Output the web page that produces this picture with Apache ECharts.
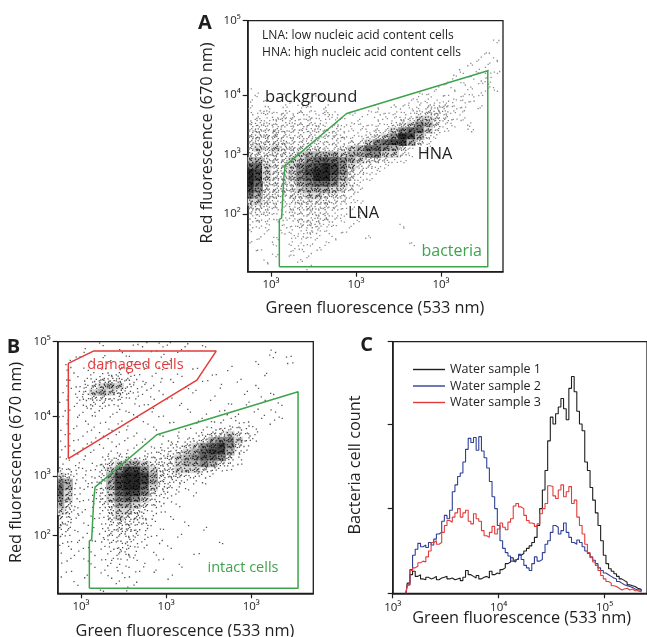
<!DOCTYPE html>
<html><head><meta charset="utf-8">
<script src="https://cdn.jsdelivr.net/npm/echarts@6/dist/echarts.min.js"></script>
<style>html,body{margin:0;padding:0;background:#fff}#c{width:647px;height:637px}</style>
</head><body><div id="c"></div>
<script>
const FONT = 'Open Sans';
const INK = '#1e1e1e';
const GREEN = '#3ea34c';
const RED = '#e23b3b';
const BLUE = '#2f4196';

// ---- Panels A & B: flow-cytometry density (log10 units) ----
const cellLogX = [2.75,2.85,2.95,3.05,3.15,3.25,3.35,3.45,3.55,3.65,3.75,3.85,3.95,4.05,4.15,4.25,4.35,4.45,4.55,4.65,4.75,4.85,4.95,5.05,5.15,5.25,5.35,5.45,5.55,5.65];
const cellLogY = [5.2,5.1,5.0,4.9,4.8,4.7,4.6,4.5,4.4,4.3,4.2,4.1,4.0,3.9,3.8,3.7,3.6,3.5,3.4,3.3,3.2,3.1,3.0,2.9,2.8,2.7,2.6,2.5,2.4,2.3,2.2,2.1,2.0,1.9,1.8,1.7,1.6,1.5,1.4,1.3,1.2,1.1];
// density level 0-9 per cell, one string per row (top row = cellLogY[0])
const densityA = [
"000000000000000000000000000000",
"000000000000000000000000000000",
"000000000000000000000000000000",
"000000000000000000000000000001",
"000000000000000000000000000000",
"000000000000000000000000000010",
"000000000000000000000000000101",
"000000000000000000000000001010",
"000000000000000000000000010111",
"000000000000000000000000101010",
"000000000000000000000001010110",
"100000000000000000000010101011",
"010010001000000000001101011100",
"101001010100000000011111111000",
"101010110100000101111222110100",
"112121211210101111112332110000",
"121222121111010111224432110000",
"222222222121111112346531101000",
"232322222221111224677421001000",
"333322222222112346985210000000",
"333332222221224678853100000000",
"343433333223457765310100000000",
"333333455554556644210000000000",
"553334467776543321100000000000",
"774334678986422110000000000000",
"984334689986321100000000000000",
"984334679975311000000000000000",
"973333567764210000000000000000",
"863333455543210000000000000000",
"753323344332100000000000000000",
"443222333322110000000000000000",
"332212232221100000000000000000",
"222112222211010000000000000000",
"121111222211010000000000000000",
"111011222110100000100000000000",
"101011121101000000000000000000",
"010101111010001000000000000000",
"100101110100000000010000000000",
"010001101000000000000000000000",
"000101010000000000000000000000",
"001000100000000000000000000000",
"000000010000000000000000000000"];
const densityB = [
"000001000110110101000000000000",
"000100010001001000000000010000",
"001001001000100000000000010100",
"010010100110010000000001000100",
"010101011010100010001000000000",
"001011221101001000100000100000",
"010123332110110001000100000000",
"011234542111000100010001000000",
"101245432110100010000010010000",
"011233221101010000100000100000",
"101122110110001000001010001000",
"010111011001000100010001010000",
"101010100100100001001100101000",
"010101010010010010110110010000",
"101010101001000101122211000000",
"010101010100101012334321000000",
"101010101010011223566421000000",
"010101010101122346786310000000",
"101010111011223457885210000000",
"110101222222234567763100000000",
"101012345543334556532100000000",
"221112468864334443211000000000",
"431112589985333221100000000000",
"651112589985322111000000000000",
"751112589974221100000000000000",
"741012478863211010000000000000",
"641112467642110000000000000000",
"531012355432101000000000000000",
"431101344321100000000000000000",
"321011343321010000000000000000",
"320101233221000100000000000000",
"221011233210100001000000000000",
"210101222211001000000000000000",
"111011222110100000010000000000",
"110101122110010000000000000000",
"101010122101000010000000000000",
"010101111100100000000000000000",
"100010111010001000000000000000",
"010001010101000000000000000000",
"100100101000010000000000000000",
"001000010100000000000000000000",
"000001001000000000000000000000"];

// gates (log10 green, log10 red)
const bacteriaGate = [[3.098,1.115],[3.098,1.91],[3.125,1.93],[3.15,2.6],[3.165,2.81],[3.89,3.69],[5.55,4.41],[5.55,1.115],[3.098,1.115]];
const damagedGate = [[2.851,3.289],[2.851,4.886],[3.145,5.092],[4.588,5.092],[4.361,4.605],[2.851,3.289]];

// tick labels as printed in the figure
const greenTickValues = [3,4,5];
const greenTickLabels = ['10³','10³','10³'];
const redTickValues = [2,3,4,5.25];
const redTickLabels = ['10²','10³','10⁴','10⁵'];

// ---- Panel C: histograms (log10 green fluorescence channel, relative count) ----
const histBinsLog = [3.125,3.15,3.175,3.2,3.225,3.25,3.275,3.3,3.325,3.35,
3.375,3.4,3.425,3.45,3.475,3.5,3.525,3.55,3.575,3.6,
3.625,3.65,3.675,3.7,3.725,3.75,3.775,3.8,3.825,3.85,
3.875,3.9,3.925,3.95,3.975,4.0,4.025,4.05,4.075,4.1,
4.125,4.15,4.175,4.2,4.225,4.25,4.275,4.3,4.325,4.35,
4.375,4.4,4.425,4.45,4.475,4.5,4.525,4.55,4.575,4.6,
4.625,4.65,4.675,4.7,4.725,4.75,4.775,4.8,4.825,4.85,
4.875,4.9,4.925,4.95,4.975,5.0,5.025,5.05,5.075,5.1,
5.125,5.15,5.175,5.2,5.225,5.25,5.275,5.3,5.325,5.35];
const sample1 = [0,0.12,0.22,0.26,0.2,0.22,0.17,0.16,0.19,0.17,
0.18,0.2,0.16,0.18,0.19,0.2,0.17,0.18,0.16,0.17,
0.18,0.15,0.19,0.27,0.22,0.2,0.18,0.21,0.17,0.19,
0.2,0.18,0.26,0.22,0.24,0.23,0.28,0.3,0.35,0.37,
0.42,0.39,0.41,0.45,0.47,0.5,0.53,0.56,0.6,0.66,
0.8,1.0,1.22,1.45,1.8,2.08,2.0,2.12,2.2,2.3,
2.18,2.05,2.42,2.56,2.38,2.15,2.0,1.92,1.55,1.45,
1.25,1.1,0.95,0.8,0.62,0.45,0.35,0.29,0.26,0.23,
0.2,0.17,0.15,0.13,0.1,0.09,0.08,0.06,0.05,0.04];
const sample2 = [0,0.1,0.28,0.45,0.52,0.59,0.55,0.57,0.54,0.6,
0.57,0.64,0.7,0.72,0.85,0.92,0.88,0.98,1.2,1.28,
1.38,1.42,1.55,1.7,1.83,1.78,1.84,1.69,1.85,1.68,
1.6,1.48,1.32,1.14,1.0,0.8,0.62,0.53,0.48,0.44,
0.38,0.37,0.4,0.46,0.4,0.33,0.3,0.27,0.35,0.43,
0.38,0.4,0.48,0.58,0.62,0.72,0.8,0.78,0.7,0.74,
0.83,0.72,0.66,0.6,0.58,0.63,0.6,0.55,0.5,0.47,
0.43,0.39,0.35,0.3,0.27,0.24,0.22,0.2,0.18,0.17,
0.14,0.12,0.1,0.09,0.08,0.07,0.05,0.04,0.04,0.03];
const sample3 = [0,0.1,0.27,0.3,0.32,0.36,0.38,0.37,0.43,0.5,
0.6,0.62,0.58,0.6,0.72,0.8,0.86,0.84,0.9,0.95,
1.0,0.9,0.95,0.98,0.85,0.82,0.94,0.88,0.85,0.74,
0.68,0.66,0.72,0.79,0.7,0.76,0.83,0.78,0.75,0.84,
0.88,1.03,1.06,1.02,1.0,0.92,0.86,0.83,0.82,0.79,
0.82,0.94,1.0,1.06,1.27,1.26,1.15,1.12,1.22,1.28,
1.14,1.2,1.26,1.06,1.1,0.9,0.8,0.7,0.58,0.48,
0.42,0.37,0.33,0.27,0.21,0.17,0.14,0.12,0.09,0.08,
0.06,0.04,0.05,0.06,0.04,0.05,0.03,0.03,0.02,0.02];
const sampleNames = ['Water sample 1','Water sample 2','Water sample 3'];
const histTickLabels = {3:'10³',4:'10⁴',5:'10⁵'};

// ---------- build ----------
// rendering style of density levels: sparse levels drawn as dot glyphs,
// dense levels as a gray cell with darker dots on top
const dotGlyph = [[0.12,0.18],[0.62,0.72],[0.86,0.28],[0.34,0.86],[0.5,0.08],[0.08,0.6],[0.72,0.46],[0.3,0.4],
  [0.92,0.9],[0.55,0.3],[0.18,0.94],[0.78,0.04],[0.42,0.62],[0.96,0.55],[0.24,0.7],[0.66,0.96]];
const panelStyle = [
  {dots:[0,3,6,9,9,9,9,8,7,6], dotColor:['','#8c8c8c','#7c7c7c','#6a6a6a','#3a3a3a','#2a2a2a','#1c1c1c','#111','#000','#000'],
   shade:[255,255,255,255,222,185,145,108,72,42]},
  {dots:[0,2,4,7,8,8,8,8,7,6], dotColor:['','#555','#505050','#4a4a4a','#333','#262626','#1a1a1a','#111','#000','#000'],
   shade:[255,255,255,255,218,180,140,104,68,40]}
];
function cells(rows){
  const out=[];
  rows.forEach((s,r)=>{
    for(let c=0;c<cellLogX.length;c++){
      const d = +(s.charAt(c)||0);
      if(d>0) out.push([cellLogX[c], cellLogY[r], d]);
    }
  });
  return out;
}
function nearestLabel(vals, labels, v){
  let bi=0,bd=1e9; vals.forEach((x,i)=>{const d=Math.abs(x-v); if(d<bd){bd=d;bi=i;}});
  return bd<1e-3?labels[bi]:'';
}
const tickStyle = {show:true, inside:false, length:5, lineStyle:{color:INK,width:1.2}};
function greenAxis(gi){
  return {type:'value', gridIndex:gi, min:2.726, max:5.729,
    axisLine:{show:true, onZero:false, lineStyle:{color:INK,width:1.5}},
    axisTick:Object.assign({customValues:greenTickValues}, tickStyle),
    axisLabel:{customValues:greenTickValues, formatter:v=>nearestLabel(greenTickValues,greenTickLabels,v), fontSize:11.5, color:INK, fontFamily:FONT, margin:7},
    splitLine:{show:false}};
}
function redAxis(gi){
  return {type:'value', gridIndex:gi, min:1.03, max:5.25,
    axisLine:{show:true, onZero:false, lineStyle:{color:INK,width:1.5}},
    axisTick:Object.assign({customValues:redTickValues}, tickStyle),
    axisLabel:{customValues:redTickValues, formatter:v=>nearestLabel(redTickValues,redTickLabels,v), fontSize:11.5, color:INK, fontFamily:FONT, margin:7},
    splitLine:{show:false}};
}
function densitySeries(rows, i){
  const st = panelStyle[i];
  return {type:'custom', xAxisIndex:i, yAxisIndex:i, data:cells(rows), encode:{x:0,y:1}, silent:true, z:1, clip:true,
    renderItem:(params, api)=>{
      const x=api.value(0), y=api.value(1), d=api.value(2);
      const p0=api.coord([x-0.05, y+0.05]), p1=api.coord([x+0.05, y-0.05]);
      const cs=params.coordSys;
      const box={x:cs.x,y:cs.y,width:cs.width,height:cs.height};
      const cell={x:p0[0],y:p0[1],width:p1[0]-p0[0],height:p1[1]-p0[1]};
      const children=[];
      const g=st.shade[d];
      if(g<255){
        const r=echarts.graphic.clipRectByRect({x:cell.x-0.4,y:cell.y-0.4,width:cell.width+0.8,height:cell.height+0.8}, box);
        if(r) children.push({type:'rect', shape:r, style:{fill:'rgb('+g+','+g+','+g+')'}});
      }
      const n=st.dots[d], s=(params.dataIndex*5)%dotGlyph.length;
      for(let k=0;k<n;k++){
        const q=dotGlyph[(s+k)%dotGlyph.length];
        const dx=cell.x+q[0]*(cell.width-1.3), dy=cell.y+q[1]*(cell.height-1.3);
        if(dx<box.x||dx+1.3>box.x+box.width||dy<box.y||dy+1.3>box.y+box.height) continue;
        children.push({type:'rect', shape:{x:dx,y:dy,width:1.3,height:1.3}, style:{fill:st.dotColor[d]}});
      }
      return {type:'group', children:children};
    }};
}
function gateSeries(pts, color, i){
  return {type:'line', xAxisIndex:i, yAxisIndex:i, data:pts, symbol:'none', silent:true, z:3,
    lineStyle:{color:color, width:1.5}};
}
function histSeries(name, vals, color){
  return {name:name, type:'line', xAxisIndex:2, yAxisIndex:2, step:'middle', symbol:'none', showSymbol:false,
    data:histBinsLog.map((x,i)=>[x, vals[i]]), lineStyle:{color:color, width:1.1}, itemStyle:{color:color}, z:3};
}
function txt(text, x, y, o){
  o=o||{};
  return {type:'text', x:x, y:y, rotation:o.rot||0, z:10, silent:true,
    style:{text:text, fill:o.color||INK, fontSize:o.size||16.3, fontWeight:o.bold?'bold':'normal', fontFamily:o.family||FONT,
      align:o.align||'center', verticalAlign:'middle'}};
}

const chart = echarts.init(document.getElementById('c'), null, {renderer:'canvas'});
chart.setOption({
  animation:false,
  backgroundColor:'#fff',
  textStyle:{fontFamily:FONT},
  grid:[
    {left:247.7, top:20.7, width:255.3, height:251, show:true, borderColor:INK, borderWidth:1.3, backgroundColor:'transparent'},
    {left:57.7, top:341.7, width:255.6, height:251.6, show:true, borderColor:INK, borderWidth:1.3, backgroundColor:'transparent'},
    {left:392.7, top:341.7, width:259.2, height:251.6, show:true, borderColor:INK, borderWidth:1.3, backgroundColor:'transparent'}
  ],
  xAxis:[greenAxis(0), greenAxis(1),
    {type:'value', gridIndex:2, min:3, max:5.4, interval:1,
     axisLine:{show:true, onZero:false, lineStyle:{color:INK,width:1.5}}, axisTick:tickStyle,
     axisLabel:{formatter:v=>histTickLabels[Math.round(v)]||'', fontSize:11.5, color:INK, fontFamily:FONT, margin:8, showMaxLabel:false},
     splitLine:{show:false}}],
  yAxis:[redAxis(0), redAxis(1),
    {type:'value', gridIndex:2, min:0, max:2.971, interval:1,
     axisLine:{show:true, onZero:false, lineStyle:{color:INK,width:1.5}}, axisTick:tickStyle,
     axisLabel:{show:false}, splitLine:{show:false}}],
  legend:{data:sampleNames, orient:'vertical', left:408, top:358, itemWidth:32, itemHeight:1.4, itemGap:3.5,
    icon:'rect', selectedMode:false, textStyle:{fontSize:12.5, color:INK, fontFamily:FONT, padding:[0,0,0,0]}},
  series:[
    densitySeries(densityA,0),
    gateSeries(bacteriaGate, GREEN, 0),
    densitySeries(densityB,1),
    gateSeries(bacteriaGate, GREEN, 1),
    gateSeries(damagedGate, RED, 1),
    histSeries(sampleNames[0], sample1, INK),
    histSeries(sampleNames[1], sample2, BLUE),
    histSeries(sampleNames[2], sample3, RED)
  ],
  graphic:[
    txt('A',205,23,{bold:true,size:20}),
    txt('LNA: low nucleic acid content cells',262,36,{align:'left',size:12.1}),
    txt('HNA: high nucleic acid content cells',262,52.7,{align:'left',size:12.1}),
    txt('background',265,97.3,{align:'left',size:16.6}),
    txt('HNA',435,154,{size:16.3}),
    txt('LNA',363.5,213,{size:16.3}),
    txt('bacteria',451.7,251.7,{color:GREEN,size:16}),
    txt('Red fluorescence (670 nm)',207,143,{rot:Math.PI/2}),
    txt('Green fluorescence (533 nm)',375,308),
    txt('B',13.5,347,{bold:true,size:20}),
    txt('damaged cells',135.5,365,{color:RED,size:14.5}),
    txt('intact cells',243,568,{color:GREEN,size:14.5}),
    txt('Red fluorescence (670 nm)',16.7,462.5,{rot:Math.PI/2}),
    txt('Green fluorescence (533 nm)',185,631.7),
    txt('C',366.5,345,{bold:true,size:20}),
    txt('Bacteria cell count',355,465,{rot:Math.PI/2}),
    txt('Green fluorescence (533 nm)',521.7,618.3)
  ]
});
</script>
</body></html>
